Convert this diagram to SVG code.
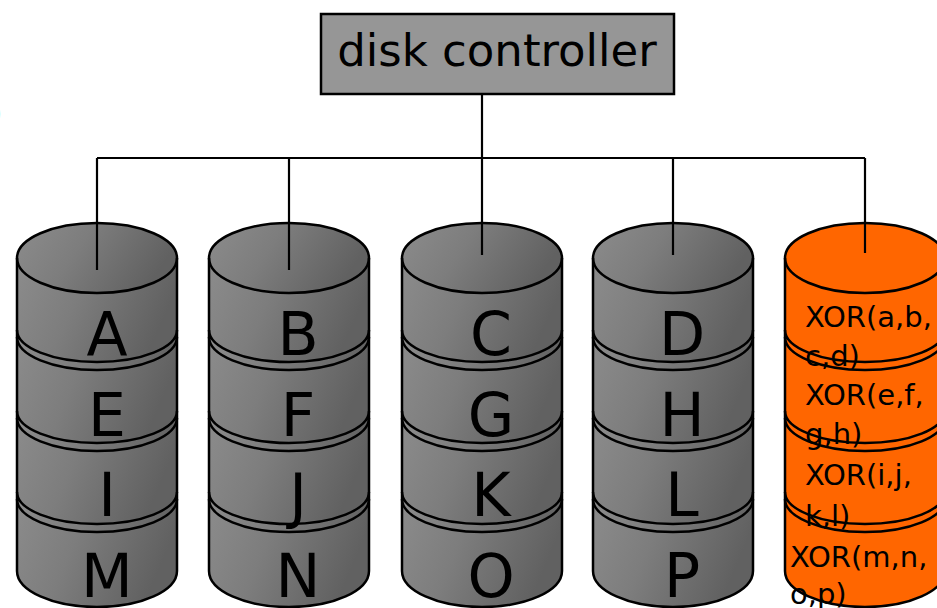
<svg xmlns="http://www.w3.org/2000/svg" xmlns:xlink="http://www.w3.org/1999/xlink" width="937" height="608" viewBox="0 0 937 608">
<style>
.ln{fill:none;stroke:#000;stroke-width:2.5}
.cn{fill:none;stroke:#000;stroke-width:2.2}
.big{font-family:"DejaVu Sans",sans-serif;font-size:60px;fill:#000;text-anchor:middle}
.xor{font-family:"DejaVu Sans",sans-serif;font-size:29px;fill:#000}
.ctl{font-family:"DejaVu Sans",sans-serif;font-size:45px;fill:#000;text-anchor:middle}
</style>
<defs>
<linearGradient id="gr" x1="0" y1="0" x2="1" y2="0.3">
<stop offset="0" stop-color="#8c8c8c"/>
<stop offset="0.45" stop-color="#7d7d7d"/>
<stop offset="1" stop-color="#616161"/>
</linearGradient>
<g id="cylfill">
<path d="M-80,492 V571 A80 36 0 0 0 80,571 V492 Z"/>
<path d="M-80,411 V492 A80 32 0 0 0 80,492 V411 Z"/>
<path d="M-80,330 V411 A80 32 0 0 0 80,411 V330 Z"/>
<path d="M-80,258 V330 A80 32 0 0 0 80,330 V258 Z"/>
<ellipse cx="0" cy="258" rx="80" ry="35"/>
</g>
<g id="cylline">
<path class="ln" d="M-80,258 V571 A80 36 0 0 0 80,571 V258"/>
<ellipse class="ln" cx="0" cy="258" rx="80" ry="35"/>
<path class="ln" d="M-80,330 A80 32 0 0 0 80,330 M-80,337 A80 33 0 0 0 80,337"/>
<path class="ln" d="M-80,411 A80 32 0 0 0 80,411 M-80,418 A80 33 0 0 0 80,418"/>
<path class="ln" d="M-80,492 A80 32 0 0 0 80,492 M-80,499 A80 33 0 0 0 80,499"/>
</g>
</defs>
<rect width="937" height="608" fill="#fff"/>
<text class="ctl" x="-14" y="128" style="text-anchor:start">)</text>
<g id="controller">
<rect x="321" y="14" width="353" height="80" fill="#969696" stroke="#000" stroke-width="2.5"/>
<text class="ctl" x="497" y="66">disk controller</text>
</g>
<g id="disk1" transform="translate(97,0)">
<use xlink:href="#cylfill" fill="url(#gr)"/>
<text class="big" x="10" y="355">A</text>
<text class="big" x="10" y="436">E</text>
<text class="big" x="10" y="516">I</text>
<text class="big" x="10" y="597">M</text>
<use xlink:href="#cylline"/>
</g>
<g id="disk2" transform="translate(289,0)">
<use xlink:href="#cylfill" fill="url(#gr)"/>
<text class="big" x="9" y="355">B</text>
<text class="big" x="9" y="436">F</text>
<text class="big" x="9" y="516">J</text>
<text class="big" x="9" y="597">N</text>
<use xlink:href="#cylline"/>
</g>
<g id="disk3" transform="translate(482,0)">
<use xlink:href="#cylfill" fill="url(#gr)"/>
<text class="big" x="9" y="355">C</text>
<text class="big" x="9" y="436">G</text>
<text class="big" x="9" y="516">K</text>
<text class="big" x="9" y="597">O</text>
<use xlink:href="#cylline"/>
</g>
<g id="disk4" transform="translate(673,0)">
<use xlink:href="#cylfill" fill="url(#gr)"/>
<text class="big" x="9" y="355">D</text>
<text class="big" x="9" y="436">H</text>
<text class="big" x="9" y="516">L</text>
<text class="big" x="9" y="597">P</text>
<use xlink:href="#cylline"/>
</g>
<g id="parity" transform="translate(865,0)">
<use xlink:href="#cylfill" fill="#ff6600"/>
<text class="xor" x="-60" y="327">XOR(a,b,</text>
<text class="xor" x="-60" y="366">c,d)</text>
<text class="xor" x="-60" y="405">XOR(e,f,</text>
<text class="xor" x="-60" y="444">g,h)</text>
<text class="xor" x="-60" y="485">XOR(i,j,</text>
<text class="xor" x="-60" y="526">k,l)</text>
<text class="xor" x="-75" y="567">XOR(m,n,</text>
<text class="xor" x="-75" y="604">o,p)</text>
<use xlink:href="#cylline"/>
</g>
<g id="connectors">
<path class="cn" d="M482,94 V255 M97,158 H865 M97,158 V270 M289,158 V270 M673,158 V255 M865,158 V253"/>
</g>
</svg>
